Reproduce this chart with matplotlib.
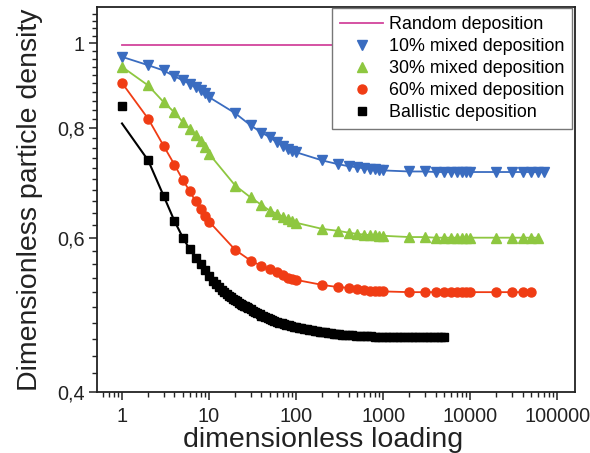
import matplotlib
matplotlib.use("Agg")
import matplotlib.pyplot as plt
import numpy as np
from matplotlib.ticker import FixedLocator, LogLocator, NullFormatter
from matplotlib.lines import Line2D

plt.rcParams['font.family'] = ['Liberation Sans', 'DejaVu Sans']

# ---------------- data ----------------
random_x = [1, 100000]
random_y = [0.995, 0.995]

blue_x = [1, 2, 3, 4, 5, 6, 7, 8, 9, 10, 20, 30, 40, 50, 60, 70, 80, 90, 100,
          200, 300, 400, 500, 600, 700, 800, 900, 1000,
          2000, 3000, 4000, 5000, 6000, 7000, 8000, 9000, 10000,
          20000, 30000, 40000, 50000, 60000, 70000]
blue_y = [0.965, 0.944, 0.931, 0.917, 0.907, 0.899, 0.891, 0.884, 0.877, 0.868,
          0.832, 0.806, 0.791, 0.781, 0.771, 0.764, 0.758, 0.754, 0.751,
          0.735, 0.728, 0.724, 0.722, 0.720, 0.719, 0.718, 0.717, 0.716,
          0.714, 0.714, 0.713, 0.713, 0.713, 0.713, 0.713, 0.713, 0.713,
          0.713, 0.713, 0.713, 0.713, 0.713, 0.713]

green_x = [1, 2, 3, 4, 5, 6, 7, 8, 9, 10, 20, 30, 40, 50, 60, 70, 80, 90, 100,
           200, 300, 400, 500, 600, 700, 800, 900, 1000,
           2000, 3000, 4000, 5000, 6000, 7000, 8000, 9000, 10000,
           20000, 30000, 40000, 50000, 60000]
green_y = [0.940, 0.895, 0.857, 0.834, 0.813, 0.799, 0.785, 0.774, 0.761, 0.748,
           0.688, 0.667, 0.654, 0.644, 0.639, 0.634, 0.631, 0.627, 0.624,
           0.614, 0.611, 0.608, 0.606, 0.605, 0.604, 0.604, 0.603, 0.603,
           0.601, 0.601, 0.600, 0.600, 0.600, 0.600, 0.600, 0.600, 0.600,
           0.600, 0.600, 0.600, 0.600, 0.600]

red_x = [1, 2, 3, 4, 5, 6, 7, 8, 9, 10, 20, 30, 40, 50, 60, 70, 80, 90, 100,
         200, 300, 400, 500, 600, 700, 800, 900, 1000,
         2000, 3000, 4000, 5000, 6000, 7000, 8000, 9000, 10000,
         20000, 30000, 40000, 50000]
red_y = [0.901, 0.820, 0.764, 0.727, 0.698, 0.678, 0.660, 0.647, 0.636, 0.626,
         0.581, 0.565, 0.557, 0.552, 0.548, 0.544, 0.540, 0.538, 0.537,
         0.530, 0.527, 0.526, 0.524, 0.523, 0.522, 0.522, 0.521, 0.521,
         0.520, 0.520, 0.520, 0.520, 0.520, 0.520, 0.520, 0.520, 0.520,
         0.520, 0.520, 0.520, 0.520]

black_x = [1, 2, 3, 4, 5, 6, 7, 8, 9, 10, 11, 12, 13, 14, 15, 16, 17, 18, 19,
           20, 21, 22, 23, 24, 25, 26, 27, 28, 30, 32, 34, 36, 38, 40, 42, 44,
           47, 50, 53, 56, 60, 64, 68, 72, 77, 82, 88, 94, 100, 107, 115, 123,
           132, 142, 152, 163, 175, 188, 200, 215, 230, 250, 270, 290, 315, 340,
           365, 400, 440, 490, 540, 600, 660, 730, 800, 880, 970, 1070, 1180,
           1300, 1430, 1580, 1740, 1920, 2120, 2340, 2580, 2850, 3150, 3480,
           3840, 4240, 4680, 5000]
black_y = [0.849, 0.735, 0.670, 0.627, 0.600, 0.582, 0.569, 0.560, 0.551, 0.542,
           0.536, 0.531, 0.527, 0.523, 0.520, 0.517, 0.515, 0.513, 0.511,
           0.509, 0.5075, 0.506, 0.5045, 0.503, 0.502, 0.501, 0.500, 0.499,
           0.497, 0.4955, 0.494, 0.492, 0.4905, 0.489, 0.488, 0.487,
           0.4858, 0.4845, 0.4834, 0.4824, 0.4812, 0.480, 0.479, 0.478, 0.4772,
           0.4765, 0.4757, 0.475, 0.4743, 0.4736, 0.4729, 0.4722,
           0.4716, 0.471, 0.4704, 0.4698, 0.4692, 0.4687, 0.4682, 0.4677, 0.4672,
           0.4667, 0.4662, 0.4658, 0.4654, 0.465, 0.4647, 0.4644, 0.4641, 0.4638,
           0.4635, 0.4632, 0.463, 0.4628, 0.4626, 0.4624, 0.4623, 0.4622, 0.4621,
           0.462, 0.462, 0.462, 0.462, 0.462, 0.462, 0.462, 0.462, 0.462, 0.462,
           0.462, 0.462, 0.462, 0.462, 0.462]

black_fit_x = [1, 2, 3, 4, 5, 6, 7, 10, 20, 50, 100, 1000, 5000]
black_fit_y = [0.810, 0.735, 0.670, 0.627, 0.600, 0.582, 0.569, 0.542, 0.509,
               0.484, 0.474, 0.4622, 0.462]

y_major = [0.4, 0.6, 0.8, 1.0]
y_major_labels = ["0,4", "0,6", "0,8", "1"]
x_major = [1, 10, 100, 1000, 10000, 100000]
x_major_labels = ["1", "10", "100", "1000", "10000", "100000"]

labels = ["Random deposition", "10% mixed deposition", "30% mixed deposition",
          "60% mixed deposition", "Ballistic deposition"]

# ---------------- colours ----------------
c_rand = "#d2449c"
c_blue = "#3a6cc0"
c_green = "#8ec740"
c_red = "#f03c14"
c_black = "#000000"
c_axis = "#222222"

fig = plt.figure(figsize=(5.90, 4.53), dpi=100)
ax = fig.add_axes([97 / 590, 1 - 392 / 453, (575 - 97) / 590, (392 - 7) / 453])

ax.set_xscale('log')
ax.set_yscale('log')

ax.plot(random_x, random_y, color=c_rand, lw=1.3, zorder=2)
ax.plot(blue_x, blue_y, color=c_blue, lw=1.3, marker='v', ms=7,
        mec=c_blue, mfc=c_blue, zorder=3)
ax.plot(green_x, green_y, color=c_green, lw=1.3, marker='^', ms=7,
        mec=c_green, mfc=c_green, zorder=3)
ax.plot(red_x, red_y, color=c_red, lw=1.3, marker='o', ms=6.5,
        mec=c_red, mfc=c_red, zorder=3)
ax.plot(black_fit_x, black_fit_y, color=c_black, lw=1.5, zorder=3)
ax.plot(black_x, black_y, ls='none', marker='s', ms=6, color=c_black, zorder=3)

ax.set_xlim(0.516, 160000)
ax.set_ylim(0.4, 1.1)

ax.xaxis.set_major_locator(FixedLocator(x_major))
ax.set_xticklabels(x_major_labels)
ax.xaxis.set_minor_locator(LogLocator(base=10, subs=np.arange(2, 10)))
ax.xaxis.set_minor_formatter(NullFormatter())

ax.yaxis.set_major_locator(FixedLocator(y_major))
ax.set_yticklabels(y_major_labels)
y_minor = [round(0.40 + 0.02 * i, 2) for i in range(1, 35)]
y_minor = [v for v in y_minor if v not in (0.6, 0.8, 1.0)]
ax.yaxis.set_minor_locator(FixedLocator(y_minor))
ax.yaxis.set_minor_formatter(NullFormatter())

ax.tick_params(which='major', direction='out', length=6, width=1.1,
               labelsize=14.3, pad=3, colors=c_axis)
ax.tick_params(which='minor', direction='out', length=3.5, width=1.0, colors=c_axis)
ax.tick_params(axis='x', which='major', pad=5)
for s in ax.spines.values():
    s.set_linewidth(1.3)
    s.set_color(c_axis)

ax.set_ylabel("Dimensionless particle density", fontsize=20.5, labelpad=10,
              color=c_axis)
fig.text((175 + 472) / 2 / 590, 1 - 447 / 453, "dimensionless loading",
         fontsize=20.5, color=c_axis, ha='center', va='baseline')

handles = [
    Line2D([], [], color=c_rand, lw=1.3),
    Line2D([], [], ls='none', marker='v', ms=7, color=c_blue),
    Line2D([], [], ls='none', marker='^', ms=7, color=c_green),
    Line2D([], [], ls='none', marker='o', ms=6.5, color=c_red),
    Line2D([], [], ls='none', marker='s', ms=5.5, color=c_black),
]
leg = ax.legend(handles, labels, loc='upper right', bbox_to_anchor=(0.994, 0.997),
                borderaxespad=0, fontsize=12.9, frameon=True, fancybox=False,
                edgecolor='#777777', framealpha=1, handlelength=2.4,
                handletextpad=0.3, labelspacing=0.28, borderpad=0.45)
leg.get_frame().set_linewidth(1.0)
leg.set_zorder(5)

fig.savefig("out.png", dpi=100)
